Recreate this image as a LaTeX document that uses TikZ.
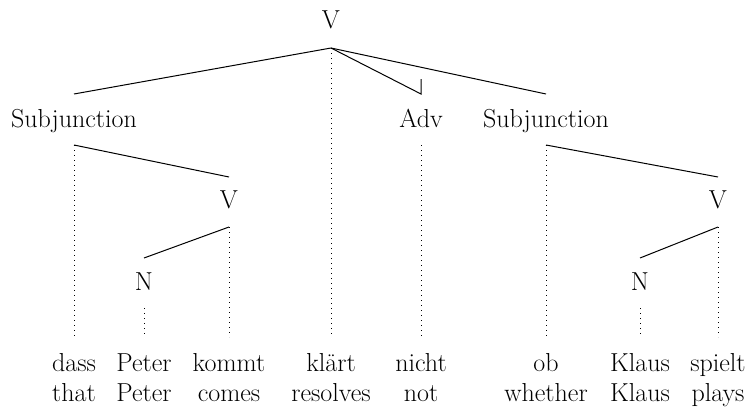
\documentclass[tikz,border=0pt]{standalone}
\begin{document}
\begin{tikzpicture}[x=1pt,y=-1pt,
  lbl/.style={anchor=base,inner sep=0pt,font=\fontsize{26}{30}\selectfont},
  edge/.style={line width=1pt},
  proj/.style={line width=1pt,dash pattern=on 1pt off 4pt}]
\useasboundingbox (0,0) rectangle (750,415);
% category nodes
\node[lbl] (V) at (331,28) {V};
\node[lbl] (S1) at (74,127) {Subjunction};
\node[lbl] (Adv) at (421,127) {Adv};
\node[lbl] (S2) at (546,127) {Subjunction};
\node[lbl] (V1) at (229,208) {V};
\node[lbl] (N1) at (144,290) {N};
\node[lbl] (V2) at (718,208) {V};
\node[lbl] (N2) at (640,290) {N};
% words
\node[lbl] (w1) at (74,371) {dass};
\node[lbl] (w2) at (144,371) {Peter};
\node[lbl] (w3) at (229,371) {kommt};
\node[lbl] (w4) at (331,371) {klärt};
\node[lbl] (w5) at (421,371) {nicht};
\node[lbl] (w6) at (546,371) {ob};
\node[lbl] (w7) at (640,371) {Klaus};
\node[lbl] (w8) at (718,371) {spielt};
\node[lbl] (g1) at (74,401) {that};
\node[lbl] (g2) at (144,401) {Peter};
\node[lbl] (g3) at (229,401) {comes};
\node[lbl] (g4) at (331,401) {resolves};
\node[lbl] (g5) at (421,401) {not};
\node[lbl] (g6) at (546,401) {whether};
\node[lbl] (g7) at (640,401) {Klaus};
\node[lbl] (g8) at (718,401) {plays};
% attachment points
\coordinate (Vb) at (331,48);
\coordinate (S1t) at (74,94);
\coordinate (S2t) at (546,94);
\coordinate (Advt) at (421,94);
\coordinate (Advk) at (421,79);
\coordinate (S1b) at (74,145);
\coordinate (Advb) at (421,145);
\coordinate (S2b) at (546,145);
\coordinate (V1t) at (229,177);
\coordinate (V1b) at (229,227);
\coordinate (N1t) at (144,258);
\coordinate (N1b) at (144,308);
\coordinate (V2t) at (718,177);
\coordinate (V2b) at (718,227);
\coordinate (N2t) at (640,258);
\coordinate (N2b) at (640,308);
\coordinate (e1) at (74,337);
\coordinate (e2) at (144,337);
\coordinate (e3) at (229,337);
\coordinate (e4) at (331,337);
\coordinate (e5) at (421,337);
\coordinate (e6) at (546,337);
\coordinate (e7) at (640,337);
\coordinate (e8) at (718,337);
% dependency edges
\draw[edge] (Vb) -- (S1t);
\draw[edge] (Vb) -- (S2t);
\draw[edge] (Vb) -- (Advt) -- (Advk);
\draw[edge] (S1b) -- (V1t);
\draw[edge] (V1b) -- (N1t);
\draw[edge] (S2b) -- (V2t);
\draw[edge] (V2b) -- (N2t);
% projection lines
\draw[proj] (Vb) -- (e4);
\draw[proj] (S1b) -- (e1);
\draw[proj] (N1b) -- (e2);
\draw[proj] (V1b) -- (e3);
\draw[proj] (Advb) -- (e5);
\draw[proj] (S2b) -- (e6);
\draw[proj] (N2b) -- (e7);
\draw[proj] (V2b) -- (e8);
\end{tikzpicture}
\end{document}
